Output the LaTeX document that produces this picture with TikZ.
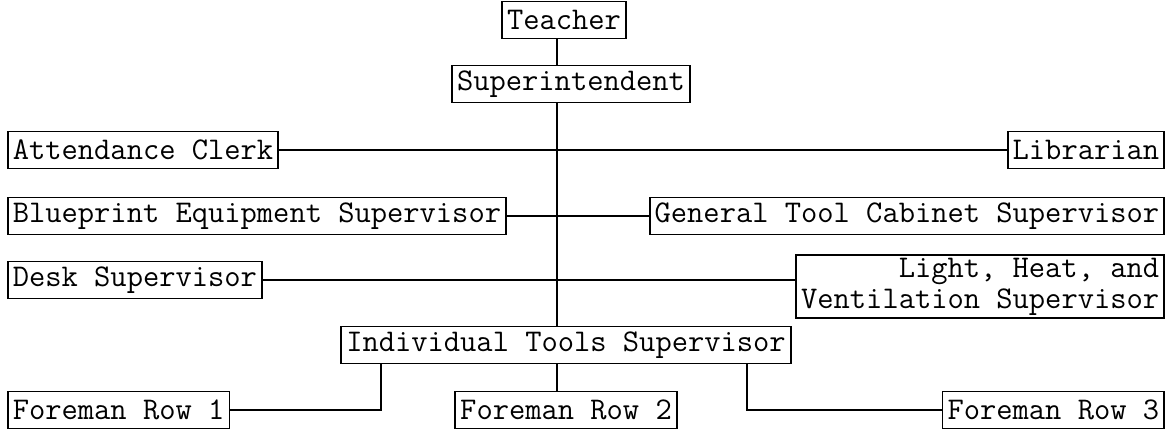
\documentclass[tikz,border=0pt]{standalone}
\usetikzlibrary{positioning}
\tikzset{
  box/.style={draw=black, line width=0.85pt, inner xsep=2.5pt, inner ysep=1.5pt, minimum height=18.5pt, font=\ttfamily\fontsize{15.8}{15.5}\selectfont},
  link/.style={line width=0.85pt, black}
}
\begin{document}
\begin{tikzpicture}[x=0.5pt, y=-0.5pt]
    \useasboundingbox (0,0) rectangle (1172,429);
    \coordinate (trunk) at (557,0);
    \coordinate (leftdrop) at (381,0);
    \coordinate (rightdrop) at (747,0);
    \node[box] (teacher) at (564,20) {Teacher};
    \node[box] (super) at (571,84) {Superintendent};
    \node[box, anchor=west] (attend) at (7,150) {Attendance Clerk};
    \node[box, anchor=east] (libr) at (1165,150) {Librarian};
    \node[box, anchor=west] (blue) at (7,216) {Blueprint Equipment Supervisor};
    \node[box, anchor=east] (cabinet) at (1165,216) {General Tool Cabinet Supervisor};
    \node[box, anchor=west] (desk) at (7,280) {Desk Supervisor};
    \node[box, anchor=north east, align=right] (light) at (1165,254) {Light, Heat, and\\Ventilation Supervisor};
    \node[box] (indiv) at (566,345) {Individual Tools Supervisor};
    \node[box, anchor=west] (row1) at (7,410) {Foreman Row 1};
    \node[box] (row2) at (566,410) {Foreman Row 2};
    \node[box, anchor=east] (row3) at (1165,410) {Foreman Row 3};
    \draw[link] (teacher.south -| trunk) -- (super.north -| trunk);
    \draw[link] (super.south -| trunk) -- (indiv.north -| trunk);
    \draw[link] (attend) -- (libr);
    \draw[link] (blue) -- (cabinet);
    \draw[link] (desk.east) -- (desk.east -| light.west);
    \draw[link] (indiv.south -| trunk) -- (row2.north -| trunk);
    \draw[link] (indiv.south -| leftdrop) |- (row1.east);
    \draw[link] (indiv.south -| rightdrop) |- (row3.west);
  \end{tikzpicture}
\end{document}
